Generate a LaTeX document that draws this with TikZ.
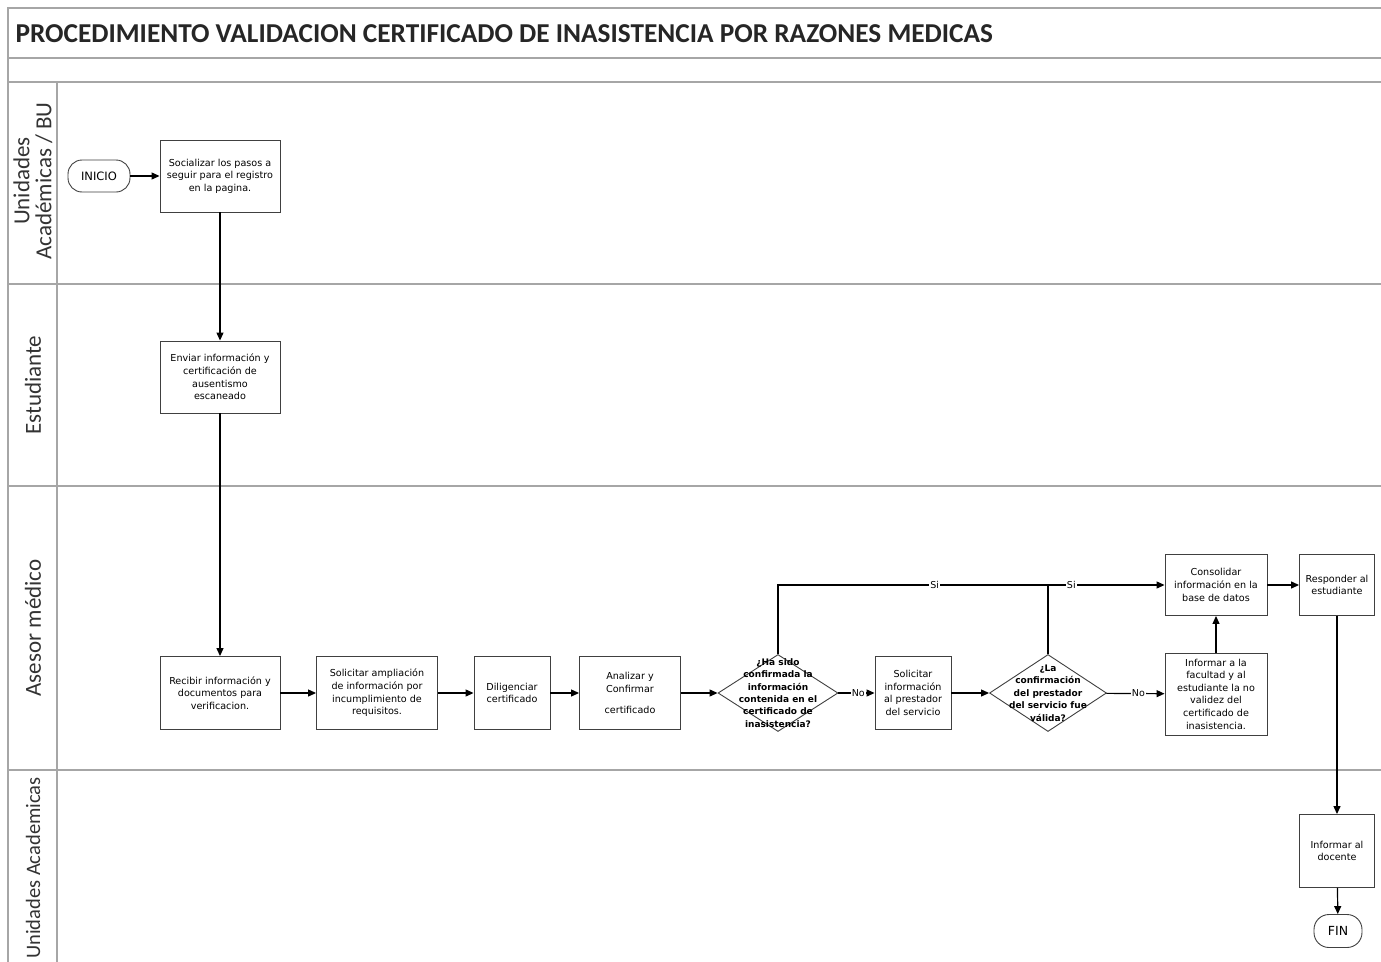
\documentclass[tikz,border=0pt]{standalone}
\usepackage{fontspec}
\setmainfont{Carlito}
\newfontfamily\boxfont{DejaVu Sans}
\usetikzlibrary{shapes.geometric,arrows.meta}
\begin{document}
\begin{tikzpicture}[x=1pt,y=-1pt,
  frame/.style={draw=gray!70, line width=1.6pt},
  proc/.style={draw=black!75, line width=0.9pt, fill=white, minimum width=#1, align=center, font=\boxfont\fontsize{9.6}{12.6}\selectfont, inner sep=1pt},
  proc/.default=120pt,
  term/.style={draw=black!75, line width=0.9pt, rounded corners=14pt, fill=white, font=\boxfont\fontsize{11.5}{12}\selectfont},
  dia/.style={draw=black!75, line width=0.9pt, diamond, fill=white, inner sep=0pt, minimum width=#1, minimum height=77pt, shape aspect=1.5},
  dtext/.style={align=center, font=\boxfont\bfseries\fontsize{9}{12.4}\selectfont, inner sep=0pt},
  conn/.style={line width=1.2pt, -{Triangle[length=8pt,width=7pt]}},
  line/.style={line width=1.2pt},
  lab/.style={fill=white, inner sep=1pt, font=\boxfont\fontsize{9.5}{10}\selectfont},
  lane/.style={rotate=90, align=center, font=\fontsize{23}{22}\selectfont, text=black!80}
]
\useasboundingbox (0,0) rectangle (1381,961);
\clip (0,0) rectangle (1381,961);
\fill[white] (0,0) rectangle (1381,961);
% frame
\draw[frame] (8,8) rectangle (1400,1000);
\draw[frame] (8,58) -- (1400,58);
\draw[frame] (8,82) -- (1400,82);
\draw[frame] (8,284) -- (1400,284);
\draw[frame] (8,486) -- (1400,486);
\draw[frame] (8,770) -- (1400,770);
\draw[frame] (57,82) -- (57,1000);
\node[anchor=west, font=\bfseries\fontsize{27.3}{28}\selectfont, text=black!85] (title) at (12,34) {PROCEDIMIENTO VALIDACION CERTIFICADO DE INASISTENCIA POR RAZONES MEDICAS};
% lane labels
\node[lane] (l1) at (33,181) {Unidades\\Académicas / BU};
\node[lane] (l2) at (33,385) {Estudiante};
\node[lane] (l3) at (33,628) {Asesor médico};
\node[lane, font=\fontsize{20.5}{22}\selectfont] (l4) at (33,868) {Unidades Academicas};
% nodes
\node[term, minimum width=62pt, minimum height=32pt] (inicio) at (99,176) {INICIO};
\node[proc, minimum height=72pt] (soc) at (220,176) {Socializar los pasos a\\seguir para el registro\\en la pagina.};
\node[proc, minimum height=72pt] (env) at (220,377) {Enviar información y\\certificación de\\ausentismo\\escaneado};
\node[proc, minimum height=73pt] (rec) at (220,693) {Recibir información y\\documentos para\\verificacion.};
\node[proc=121pt, minimum height=73pt] (amp) at (377,693) {Solicitar ampliación\\de información por\\incumplimiento de\\requisitos.};
\node[proc=76pt, minimum height=73pt] (dil) at (512,693) {Diligenciar\\certificado};
\node[proc=101pt, minimum height=73pt] (ana) at (630,693) {Analizar y\\Confirmar\\[8pt]certificado};
\node[dia=120pt] (d1) at (778,693) {};
\node[dtext] (d1t) at (d1.center) {¿Ha sido\\confirmada la\\información\\contenida en el\\certificado de\\inasistencia?};
\node[proc=76pt, minimum height=73pt] (sol) at (913,693) {Solicitar\\información\\al prestador\\del servicio};
\node[dia=117pt] (d2) at (1048,693) {};
\node[dtext] (d2t) at (d2.center) {¿La\\confirmación\\del prestador\\del servicio fue\\válida?};
\node[proc=102pt, minimum height=82pt] (inf) at (1216,694) {Informar a la\\facultad y al\\estudiante la no\\validez del\\certificado de\\inasistencia.};
\node[proc=102pt, minimum height=61pt] (cons) at (1216,585) {Consolidar\\información en la\\base de datos};
\node[proc=75pt, minimum height=61pt] (resp) at (1337,585) {Responder al\\estudiante};
\node[proc=75pt, minimum height=73pt] (doc) at (1337,851) {Informar al\\docente};
\node[term, minimum width=48pt, minimum height=33pt, rounded corners=15pt, font=\boxfont\fontsize{12.5}{13}\selectfont] (fin) at (1338,931) {FIN};
% connectors
\draw[conn] (inicio) -- (soc);
\draw[conn] (soc) -- (env);
\draw[conn] (env) -- (rec);
\draw[conn] (rec) -- (amp);
\draw[conn] (amp) -- (dil);
\draw[conn] (dil) -- (ana);
\draw[conn] (ana) -- (d1);
\draw[conn] (d1) -- node[lab, pos=0.55] {No} (sol);
\draw[conn] (sol) -- (d2);
\draw[conn] (d2) -- node[lab, pos=0.55] {No} (inf);
\coordinate (j1) at (778,585);
\coordinate (j2) at (1048,585);
\draw[conn] (d1.north) -- (j1) -- node[lab, pos=0.58] {Si} (j2) -- node[lab, pos=0.2] {Si} (cons.west);
\draw[line] (d2.north) -- (j2);
\draw[conn] (inf) -- (cons);
\draw[conn] (cons) -- (resp);
\draw[conn] (resp) -- (doc);
\draw[conn] (doc) -- (fin);
\end{tikzpicture}
\end{document}
